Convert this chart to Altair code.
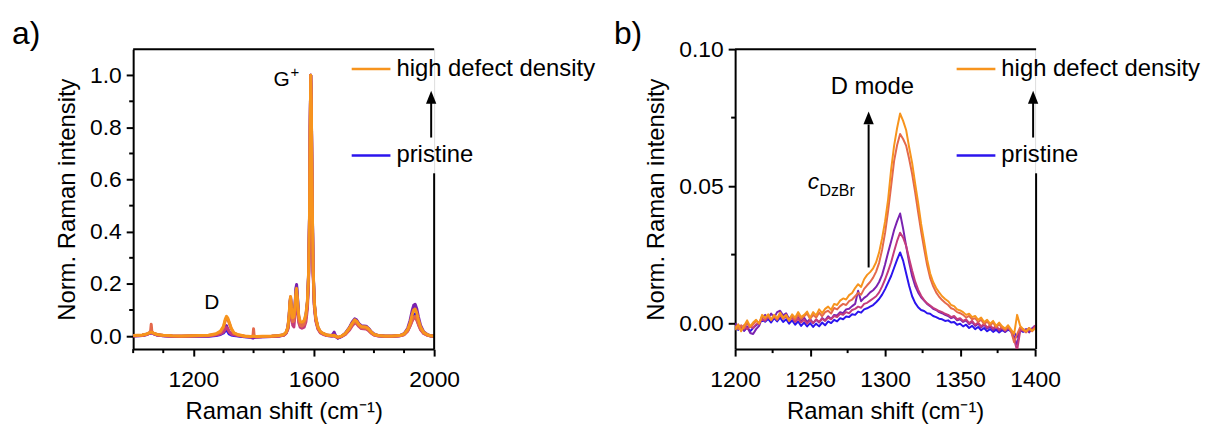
import altair as alt
import pandas as pd

FONT = "Liberation Sans"
SERIES = ["pristine", "step 2", "step 3", "step 4", "high defect density"]
COLORS = ["#2B14EE", "#7A22B0", "#C43B7C", "#E4694C", "#F7941D"]

# ---------------- panel a: full spectra ----------------
xa = [1000, 1015, 1030, 1045, 1053, 1058, 1060, 1062, 1068, 1080,
      1100, 1130, 1160, 1190, 1220, 1250, 1275, 1290, 1300, 1306,
      1310, 1314, 1319, 1326, 1335, 1350, 1370, 1390, 1398, 1400,
      1402, 1410, 1430, 1460, 1485, 1500, 1508, 1514, 1518, 1521,
      1523, 1526, 1530, 1534, 1538, 1541, 1543, 1546, 1550, 1555,
      1561, 1568, 1574, 1579, 1583, 1586, 1588, 1590, 1592, 1595,
      1598, 1602, 1607, 1614, 1622, 1632, 1645, 1660, 1668, 1672,
      1680, 1692, 1705, 1718, 1728, 1736, 1742, 1750, 1758, 1766,
      1774, 1782, 1790, 1800, 1815, 1835, 1860, 1885, 1900, 1912,
      1920, 1927, 1932, 1937, 1942, 1948, 1955, 1965, 1978, 1990,
      2000]

a_blue = [0.001, 0.001, 0.002, 0.006, 0.010, 0.012, 0.012, 0.012, 0.009, 0.004,
          0.001, -0.001, -0.002, -0.001, 0.000, -0.001, 0.002, 0.006, 0.012, 0.020,
          0.026, 0.018, 0.008, 0.004, 0.002, 0.000, -0.003, -0.004, -0.003, -0.002,
          -0.003, -0.004, -0.003, -0.002, 0.000, 0.004, 0.012, 0.030, 0.070, 0.125,
          0.145, 0.104, 0.058, 0.060, 0.118, 0.178, 0.190, 0.145, 0.070, 0.046,
          0.041, 0.048, 0.074, 0.128, 0.240, 0.465, 0.790, 1.000, 0.870, 0.510,
          0.250, 0.122, 0.064, 0.031, 0.015, 0.008, 0.002, 0.000, 0.002, -0.001,
          -0.007, -0.002, 0.009, 0.029, 0.050, 0.062, 0.059, 0.046, 0.038, 0.037,
          0.036, 0.028, 0.016, 0.006, 0.001, -0.001, -0.001, 0.001, 0.007, 0.022,
          0.044, 0.070, 0.082, 0.085, 0.074, 0.052, 0.029, 0.012, 0.004, 0.000,
          -0.001]

a_purple = [0.001, 0.002, 0.003, 0.007, 0.011, 0.013, 0.013, 0.013, 0.010, 0.005,
            0.002, 0.000, -0.001, 0.000, 0.002, 0.001, 0.005, 0.011, 0.022, 0.034,
            0.040, 0.028, 0.015, 0.008, 0.005, 0.001, -0.002, -0.005, -0.008, -0.004,
            -0.006, -0.004, -0.002, -0.001, 0.001, 0.005, 0.013, 0.033, 0.075, 0.130,
            0.150, 0.108, 0.062, 0.065, 0.125, 0.185, 0.198, 0.150, 0.075, 0.050,
            0.045, 0.052, 0.078, 0.132, 0.245, 0.470, 0.795, 1.000, 0.875, 0.515,
            0.255, 0.125, 0.066, 0.033, 0.016, 0.009, 0.003, 0.002, 0.015, 0.003,
            -0.008, -0.001, 0.011, 0.032, 0.054, 0.066, 0.062, 0.048, 0.040, 0.039,
            0.038, 0.030, 0.018, 0.008, 0.002, 0.000, -0.001, 0.002, 0.009, 0.030,
            0.060, 0.098, 0.118, 0.122, 0.106, 0.073, 0.041, 0.017, 0.005, 0.001,
            0.000]

a_magenta = [0.000, 0.001, 0.002, 0.006, 0.010, 0.012, 0.012, 0.012, 0.009, 0.004,
             0.001, -0.001, -0.001, 0.000, 0.001, 0.000, 0.004, 0.008, 0.016, 0.026,
             0.033, 0.028, 0.017, 0.008, 0.005, 0.002, -0.001, -0.003, -0.002, -0.001,
             -0.002, -0.004, -0.003, -0.002, 0.000, 0.003, 0.010, 0.026, 0.060, 0.112,
             0.130, 0.090, 0.042, 0.035, 0.085, 0.150, 0.162, 0.110, 0.052, 0.034,
             0.030, 0.034, 0.055, 0.105, 0.210, 0.430, 0.770, 1.000, 0.860, 0.480,
             0.230, 0.110, 0.056, 0.026, 0.012, 0.006, 0.002, 0.000, 0.001, -0.002,
             -0.006, -0.002, 0.006, 0.022, 0.040, 0.050, 0.048, 0.037, 0.029, 0.028,
             0.027, 0.021, 0.012, 0.004, 0.000, -0.001, -0.001, 0.001, 0.005, 0.019,
             0.038, 0.058, 0.069, 0.071, 0.062, 0.043, 0.024, 0.010, 0.003, 0.000,
             -0.001]

a_coral = [0.001, 0.002, 0.003, 0.007, 0.011, 0.020, 0.045, 0.018, 0.010, 0.005,
           0.002, 0.000, -0.001, 0.000, 0.001, 0.002, 0.007, 0.015, 0.033, 0.059,
           0.069, 0.065, 0.050, 0.027, 0.011, 0.004, -0.001, -0.003, 0.000, 0.028,
           0.000, -0.003, -0.002, -0.001, 0.001, 0.004, 0.012, 0.030, 0.070, 0.125,
           0.142, 0.100, 0.055, 0.058, 0.105, 0.155, 0.165, 0.120, 0.065, 0.042,
           0.038, 0.045, 0.070, 0.125, 0.235, 0.460, 0.790, 1.000, 0.870, 0.500,
           0.245, 0.120, 0.062, 0.030, 0.015, 0.008, 0.003, 0.001, 0.002, -0.001,
           -0.005, -0.001, 0.008, 0.026, 0.044, 0.054, 0.051, 0.040, 0.032, 0.031,
           0.030, 0.024, 0.014, 0.005, 0.001, -0.001, -0.001, 0.001, 0.006, 0.020,
           0.040, 0.062, 0.073, 0.075, 0.066, 0.046, 0.026, 0.011, 0.003, 0.000,
           -0.001]

a_orange = [0.002, 0.003, 0.004, 0.008, 0.012, 0.014, 0.015, 0.014, 0.011, 0.006,
            0.003, 0.001, 0.000, 0.001, 0.002, 0.003, 0.009, 0.019, 0.037, 0.065,
            0.076, 0.070, 0.054, 0.030, 0.012, 0.005, 0.000, -0.002, -0.001, 0.000,
            -0.001, -0.002, -0.001, 0.000, 0.002, 0.006, 0.015, 0.035, 0.080, 0.135,
            0.152, 0.110, 0.070, 0.075, 0.120, 0.172, 0.183, 0.140, 0.080, 0.056,
            0.052, 0.060, 0.085, 0.140, 0.250, 0.480, 0.800, 1.000, 0.880, 0.520,
            0.260, 0.130, 0.070, 0.035, 0.018, 0.010, 0.004, 0.002, 0.003, 0.000,
            -0.004, 0.000, 0.010, 0.030, 0.050, 0.062, 0.058, 0.045, 0.037, 0.036,
            0.035, 0.028, 0.017, 0.007, 0.002, 0.000, 0.000, 0.002, 0.008, 0.025,
            0.050, 0.082, 0.100, 0.104, 0.090, 0.062, 0.035, 0.015, 0.005, 0.001,
            0.000]

# ---------------- panel b: D-mode region ----------------
xb = list(range(1200, 1401, 2))

b_blue = [-0.0010, -0.0025, -0.0012, -0.0028, -0.0015, -0.0030, -0.0018, -0.0008, 0.0000, 0.0012,
          0.0005, 0.0015, 0.0002, 0.0018, 0.0006, 0.0020, 0.0004, 0.0014, -0.0002, 0.0010,
          -0.0006, 0.0006, -0.0010, 0.0002, -0.0012, 0.0000, -0.0014, -0.0002, -0.0012, 0.0002,
          -0.0008, 0.0006, 0.0000, 0.0012, 0.0006, 0.0018, 0.0014, 0.0024, 0.0022, 0.0032,
          0.0030, 0.0042, 0.0038, 0.0050, 0.0054, 0.0060, 0.0066, 0.0076, 0.0088, 0.0104,
          0.0124, 0.0148, 0.0172, 0.0202, 0.0232, 0.0258, 0.0228, 0.0182, 0.0136, 0.0098,
          0.0074, 0.0058, 0.0048, 0.0044, 0.0036, 0.0034, 0.0026, 0.0022, 0.0016, 0.0014,
          0.0008, 0.0010, 0.0002, 0.0004, -0.0006, -0.0002, -0.0012, -0.0006, -0.0018, -0.0010,
          -0.0022, -0.0014, -0.0026, -0.0018, -0.0030, -0.0022, -0.0032, -0.0024, -0.0034, -0.0026,
          -0.0032, -0.0024, -0.0030, -0.0036, -0.0050, -0.0026, -0.0032, -0.0024, -0.0030, -0.0020,
          -0.0010]

b_purple = [0.0000, -0.0020, -0.0010, -0.0028, -0.0012, -0.0036, -0.0040, -0.0022, -0.0010, 0.0020,
            0.0030, 0.0018, 0.0035, 0.0020, 0.0040, 0.0045, 0.0028, 0.0036, 0.0015, 0.0028,
            0.0010, 0.0025, 0.0008, 0.0020, 0.0004, 0.0015, 0.0000, 0.0012, 0.0002, 0.0018,
            0.0010, 0.0025, 0.0015, 0.0030, 0.0028, 0.0040, 0.0036, 0.0050, 0.0052, 0.0062,
            0.0070, 0.0118, 0.0080, 0.0092, 0.0100, 0.0112, 0.0120, 0.0132, 0.0150, 0.0176,
            0.0215, 0.0258, 0.0298, 0.0340, 0.0372, 0.0400, 0.0345, 0.0282, 0.0222, 0.0172,
            0.0136, 0.0112, 0.0094, 0.0082, 0.0070, 0.0062, 0.0052, 0.0048, 0.0040, 0.0036,
            0.0030, 0.0026, 0.0018, 0.0022, 0.0010, 0.0014, 0.0004, 0.0010, -0.0004, 0.0004,
            -0.0010, -0.0002, -0.0016, -0.0006, -0.0020, -0.0012, -0.0026, -0.0014, -0.0030, -0.0018,
            -0.0032, -0.0020, -0.0028, -0.0050, -0.0080, -0.0020, -0.0030, -0.0022, -0.0034, -0.0020,
            -0.0012]

b_magenta = [-0.0015, -0.0005, -0.0020, -0.0008, -0.0022, -0.0010, -0.0018, -0.0005, 0.0000, 0.0015,
             0.0008, 0.0022, 0.0012, 0.0026, 0.0014, 0.0030, 0.0018, 0.0024, 0.0008, 0.0020,
             0.0004, 0.0016, 0.0002, 0.0012, -0.0002, 0.0010, 0.0000, 0.0014, 0.0004, 0.0016,
             0.0008, 0.0020, 0.0014, 0.0026, 0.0022, 0.0034, 0.0030, 0.0040, 0.0036, 0.0048,
             0.0052, 0.0060, 0.0056, 0.0070, 0.0074, 0.0082, 0.0090, 0.0098, 0.0112, 0.0134,
             0.0160, 0.0190, 0.0222, 0.0262, 0.0300, 0.0330, 0.0312, 0.0282, 0.0236, 0.0192,
             0.0152, 0.0122, 0.0100, 0.0084, 0.0072, 0.0064, 0.0056, 0.0050, 0.0044, 0.0040,
             0.0034, 0.0030, 0.0022, 0.0026, 0.0014, 0.0018, 0.0008, 0.0014, 0.0000, 0.0008,
             -0.0006, 0.0002, -0.0012, -0.0002, -0.0016, -0.0008, -0.0020, -0.0010, -0.0024, -0.0014,
             -0.0026, -0.0016, -0.0030, -0.0060, -0.0100, -0.0030, -0.0022, -0.0030, -0.0018, -0.0026,
             -0.0008]

b_coral = [-0.0010, -0.0022, -0.0008, -0.0020, 0.0000, -0.0015, -0.0005, 0.0008, 0.0000, 0.0025,
           0.0015, 0.0028, 0.0010, 0.0025, 0.0012, 0.0030, 0.0015, 0.0028, 0.0008, 0.0025,
           0.0012, 0.0030, 0.0015, 0.0025, 0.0035, 0.0015, 0.0030, 0.0020, 0.0038, 0.0025,
           0.0040, 0.0045, 0.0035, 0.0055, 0.0050, 0.0062, 0.0070, 0.0066, 0.0080, 0.0086,
           0.0098, 0.0110, 0.0104, 0.0125, 0.0138, 0.0150, 0.0166, 0.0188, 0.0220, 0.0268,
           0.0330, 0.0410, 0.0500, 0.0592, 0.0650, 0.0690, 0.0672, 0.0648, 0.0600, 0.0545,
           0.0478, 0.0405, 0.0335, 0.0272, 0.0212, 0.0165, 0.0135, 0.0112, 0.0096, 0.0084,
           0.0074, 0.0066, 0.0054, 0.0050, 0.0040, 0.0036, 0.0030, 0.0020, 0.0026, 0.0014,
           0.0018, 0.0004, 0.0012, -0.0004, 0.0006, -0.0008, 0.0002, -0.0016, -0.0004, -0.0018,
           -0.0026, -0.0014, -0.0030, -0.0070, -0.0040, -0.0016, -0.0026, -0.0034, -0.0022, -0.0030,
           -0.0016]

b_orange = [-0.0025, -0.0005, -0.0030, -0.0010, 0.0010, -0.0012, 0.0002, 0.0012, -0.0002, 0.0030,
            0.0020, 0.0032, 0.0012, 0.0030, 0.0018, 0.0038, 0.0020, 0.0030, 0.0010, 0.0032,
            0.0020, 0.0040, 0.0022, 0.0030, 0.0042, 0.0020, 0.0040, 0.0028, 0.0050, 0.0036,
            0.0052, 0.0060, 0.0048, 0.0070, 0.0066, 0.0082, 0.0090, 0.0086, 0.0102, 0.0110,
            0.0128, 0.0142, 0.0132, 0.0160, 0.0176, 0.0186, 0.0200, 0.0222, 0.0258, 0.0310,
            0.0372, 0.0452, 0.0560, 0.0648, 0.0712, 0.0765, 0.0738, 0.0705, 0.0642, 0.0585,
            0.0510, 0.0440, 0.0362, 0.0298, 0.0232, 0.0182, 0.0150, 0.0128, 0.0112, 0.0098,
            0.0088, 0.0080, 0.0066, 0.0062, 0.0050, 0.0046, 0.0040, 0.0030, 0.0034, 0.0022,
            0.0026, 0.0012, 0.0020, 0.0004, 0.0012, -0.0002, 0.0008, -0.0010, 0.0002, -0.0012,
            -0.0020, -0.0008, -0.0024, -0.0040, 0.0030, -0.0010, -0.0022, -0.0030, -0.0018, -0.0028,
            -0.0020]

# axis ticks
a_xmajor = [1200, 1600, 2000]
a_xminor = [1000, 1100, 1300, 1400, 1500, 1700, 1800, 1900]
a_ymajor = [0.0, 0.2, 0.4, 0.6, 0.8, 1.0]
a_yminor = [0.1, 0.3, 0.5, 0.7, 0.9]
b_xmajor = [1200, 1250, 1300, 1350, 1400]
b_xminor = [1225, 1275, 1325, 1375]
b_ymajor = [0.0, 0.05, 0.10]
b_yminor = [0.025, 0.075]

W = 303
H = 302
XTITLE = "Raman shift (cm\u207b\u00b9)"
YTITLE = "Norm. Raman intensity"


def axis_x(values, title):
    return alt.Axis(values=values, format="d", title=title, grid=False,
                    domainColor="black", domainWidth=2, tickColor="black",
                    tickWidth=2, tickSize=7, labelColor="black", labelFont=FONT,
                    labelFontSize=23, labelPadding=13, labelFlush=False,
                    titleFont=FONT, titleFontSize=24, titleFontWeight="normal",
                    titleColor="black", titlePadding=8)


def axis_y(values, fmt, title):
    return alt.Axis(values=values, format=fmt, title=title, grid=False,
                    domainColor="black", domainWidth=2, tickColor="black",
                    tickWidth=2, tickSize=7, labelColor="black", labelFont=FONT,
                    labelFontSize=23, labelPadding=5, labelFlush=False,
                    titleFont=FONT, titleFontSize=24, titleFontWeight="normal",
                    titleColor="black", titlePadding=10)


one = pd.DataFrame({"k": [0]})


def panel(xs, ys, xdom, ydom, xmaj, xmin, ymaj, ymin, yfmt, lw, right_from,
          tag, legend_x):
    xsc = alt.Scale(domain=xdom, nice=False, zero=False)
    ysc = alt.Scale(domain=ydom, nice=False, zero=False)
    xax = axis_x(xmaj, XTITLE)
    yax = axis_y(ymaj, yfmt, YTITLE)

    def X(f):
        return alt.X(f, scale=xsc, axis=xax)

    def Y(f):
        return alt.Y(f, scale=ysc, axis=yax)

    layers = []
    for name, col, vals in zip(SERIES, COLORS, ys):
        assert len(vals) == len(xs)
        df = pd.DataFrame({"x": xs, "y": vals})
        layers.append(
            alt.Chart(df).mark_line(color=col, strokeWidth=lw, clip=True,
                                    strokeJoin="round").encode(
                x=X("x:Q"), y=Y("y:Q"))
        )
    # minor ticks
    layers.append(alt.Chart(pd.DataFrame({"x": xmin})).mark_rule(
        color="black", strokeWidth=2).encode(
        x=X("x:Q"), y=alt.value(H), y2=alt.value(H + 4)))
    layers.append(alt.Chart(pd.DataFrame({"y": ymin})).mark_rule(
        color="black", strokeWidth=2).encode(
        y=Y("y:Q"), x=alt.value(0), x2=alt.value(-4)))
    # frame top and right
    layers.append(alt.Chart(one).mark_rule(color="black", strokeWidth=2).encode(
        x=alt.value(0), x2=alt.value(W), y=alt.value(0)))
    layers.append(alt.Chart(one).mark_rule(color="black", strokeWidth=2).encode(
        x=alt.value(W), y=alt.value(right_from), y2=alt.value(H)))
    # legend
    lx = legend_x
    layers.append(alt.Chart(one).mark_rule(color=COLORS[-1], strokeWidth=2.5).encode(
        x=alt.value(lx), x2=alt.value(lx + 39), y=alt.value(20)))
    layers.append(alt.Chart(one).mark_rule(color=COLORS[0], strokeWidth=2.5).encode(
        x=alt.value(lx), x2=alt.value(lx + 39), y=alt.value(107)))
    layers.append(alt.Chart(one).mark_text(align="left", baseline="middle", font=FONT,
                                           fontSize=24, color="black").encode(
        x=alt.value(lx + 45), y=alt.value(20), text=alt.value("high defect density")))
    layers.append(alt.Chart(one).mark_text(align="left", baseline="middle", font=FONT,
                                           fontSize=24, color="black").encode(
        x=alt.value(lx + 45), y=alt.value(107), text=alt.value("pristine")))
    # arrow beside legend
    ax = W - 3
    layers.append(alt.Chart(one).mark_rule(color="black", strokeWidth=2).encode(
        x=alt.value(ax), y=alt.value(89), y2=alt.value(54)))
    layers.append(alt.Chart(one).mark_point(
        shape="M0,-1L0.8,1L-0.8,1Z", filled=True, color="black", size=169,
        opacity=1).encode(x=alt.value(ax), y=alt.value(48.5)))
    # panel tag
    layers.append(alt.Chart(one).mark_text(align="left", baseline="alphabetic",
                                           font=FONT, fontSize=32, color="black").encode(
        x=alt.value(-122), y=alt.value(-5), text=alt.value(tag)))
    return layers, X, Y


la, Xa, Ya = panel(xa, [a_blue, a_purple, a_magenta, a_coral, a_orange],
                   [1000, 2000], [-0.05, 1.1], a_xmajor, a_xminor, a_ymajor,
                   a_yminor, ".1f", 3, 125, "a)", 220)


def label(X, Y, x, y, t, **kw):
    return alt.Chart(pd.DataFrame({"x": [x], "y": [y], "t": [t]})).mark_text(
        font=FONT, color="black", **kw).encode(x=X("x:Q"), y=Y("y:Q"), text="t:N")


# panel a peak labels
la.append(label(Xa, Ya, 1261, 0.105, "D", fontSize=21, baseline="alphabetic"))
la.append(label(Xa, Ya, 1493, 0.958, "G", fontSize=21, baseline="alphabetic"))
la.append(label(Xa, Ya, 1537, 1.011, "+", fontSize=15, baseline="middle"))

lb, Xb, Yb = panel(xb, [b_blue, b_purple, b_magenta, b_coral, b_orange],
                   [1200, 1400], [-0.0095, 0.10], b_xmajor, b_xminor, b_ymajor,
                   b_yminor, ".2f", 2, 125, "b)", 223)

# panel b annotations
lb.append(label(Xb, Yb, 1291.5, 0.086, "D mode", fontSize=24, baseline="middle"))
lb.append(alt.Chart(pd.DataFrame({"x": [1289, 1289], "y": [0.0203, 0.0725]})).mark_line(
    color="black", strokeWidth=2).encode(x=Xb("x:Q"), y=Yb("y:Q")))
lb.append(alt.Chart(pd.DataFrame({"x": [1289], "y": [0.0749]})).mark_point(
    shape="M0,-1L0.8,1L-0.8,1Z", filled=True, color="black", size=169, opacity=1).encode(
    x=Xb("x:Q"), y=Yb("y:Q")))
lb.append(label(Xb, Yb, 1248.5, 0.049, "c", fontSize=23, fontStyle="italic",
                align="left", baseline="alphabetic"))
lb.append(label(Xb, Yb, 1256.2, 0.0464, "DzBr", fontSize=16, align="left",
                baseline="alphabetic"))

chart_a = alt.layer(*la).properties(width=W, height=H)
chart_b = alt.layer(*lb).properties(width=302, height=H)

chart = alt.hconcat(chart_a, chart_b, spacing=303, bounds="flush").properties(
    padding={"left": 3, "top": 8, "right": 0, "bottom": 2}
).configure_view(stroke=None).configure(background="white")

chart.save("out.html", embed_options={"renderer": "svg", "actions": False})
